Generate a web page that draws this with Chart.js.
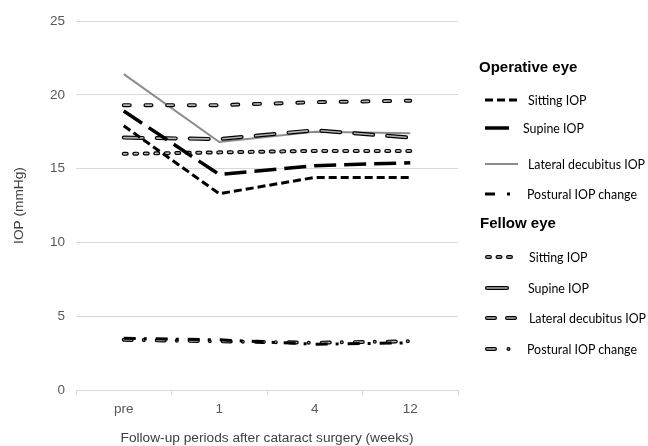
<!DOCTYPE html>
<html>
<head>
<meta charset="utf-8">
<script src="https://cdn.jsdelivr.net/npm/chart.js@4/dist/chart.umd.min.js"></script>
<style>
  html, body { margin: 0; padding: 0; background: #fff; }
  #wrap { position: relative; width: 648px; height: 446px; }
  #c { position: absolute; left: 0; top: 0; }
  #lg { position: absolute; left: 0; top: 0; pointer-events: none; }
  .hd { position: absolute; font: bold 15px "Liberation Sans", Arial, sans-serif; color: #000; transform: translateY(-50%); white-space: nowrap; }
  .it { position: absolute; font: 12.4px Lato, "Open Sans", sans-serif; color: #000; transform: translateY(-50%); white-space: nowrap; }
</style>
</head>
<body>
<div id="wrap">
  <canvas id="c" width="648" height="446"></canvas>
  <canvas id="lg" width="648" height="446"></canvas>
</div>
<script>
// ---- data ----
const categories = ['pre', '1', '4', '12'];
const opSitting  = [17.9, 13.3, 14.4, 14.4];
const opSupine   = [18.9, 14.6, 15.2, 15.4];
const opLateral  = [21.4, 16.8, 17.5, 17.4];
const opPostural = [3.5, 3.4, 3.1, 3.2];
const feSitting  = [16.0, 16.1, 16.2, 16.2];
const feSupine   = [17.1, 17.0, 17.6, 17.1];
const feLateral  = [19.3, 19.3, 19.5, 19.6];
const fePostural = [3.4, 3.3, 3.2, 3.3];
const yTicks = [0, 5, 10, 15, 20, 25];
const xTitle = 'Follow-up periods after cataract surgery (weeks)';
const yTitle = 'IOP (mmHg)';

// ---- styles ----
const INNER = '#b3b3b3';
function line(data, color, width, dash, order, cap) {
  return { data, borderColor: color, borderWidth: width, borderDash: dash, borderCapStyle: cap || 'butt',
           pointRadius: 0, pointHoverRadius: 0, fill: false, tension: 0, order };
}
const dashFeSit = [3, 7.5], dashFeSup = [19, 14], dashFeLat = [6, 15.7], dashFePos = [8, 12, 0.01, 13];
const datasets = [
  line(opSitting, '#000', 3, [8, 4], 1),
  line(opSupine, '#000', 3.5, [22, 8], 2),
  line(opPostural, '#000', 3, [12, 8, 3, 9], 3),
  // fellow eye: outlined lines (outer black, inner gray)
  line(feSitting, INNER, 1.6, dashFeSit, 10, 'round'),
  line(feSitting, '#000', 4, dashFeSit, 11, 'round'),
  line(feSupine, INNER, 1.6, dashFeSup, 12, 'round'),
  line(feSupine, '#000', 4, dashFeSup, 13, 'round'),
  line(feLateral, INNER, 1.6, dashFeLat, 14, 'round'),
  line(feLateral, '#000', 4, dashFeLat, 15, 'round'),
  line(fePostural, INNER, 1.6, dashFePos, 16, 'round'),
  line(fePostural, '#000', 4, dashFePos, 17, 'round'),
  line(opLateral, '#8c8c8c', 2, [], 30)
];

const tickFont = { family: '"Liberation Sans", Arial, sans-serif', size: 13.5 };
const titleFont = { family: '"Liberation Sans", Arial, sans-serif', size: 13.7 };
new Chart(document.getElementById('c'), {
  type: 'line',
  data: { labels: categories, datasets },
  options: {
    responsive: false, animation: false, devicePixelRatio: 1,
    layout: { padding: { top: 21, right: 190, left: 0, bottom: 0 } },
    plugins: { legend: { display: false }, tooltip: { enabled: false } },
    scales: {
      x: {
        offset: true,
        grid: { offset: true, drawOnChartArea: false, drawTicks: true, tickLength: 5, color: '#d9d9d9' },
        border: { color: '#d9d9d9' },
        ticks: { padding: 6, font: tickFont, color: '#595959' },
        title: { display: true, text: xTitle, font: titleFont, color: '#404040', padding: { top: 0, bottom: 0 } },
        afterFit: s => { s.height = 56; }
      },
      y: {
        min: 0, max: 25,
        afterBuildTicks: s => { s.ticks = yTicks.map(v => ({ value: v })); },
        ticks: { padding: 11, font: tickFont, color: '#595959' },
        grid: { color: '#d9d9d9', drawTicks: false },
        border: { display: false },
        title: { display: true, text: yTitle, font: titleFont, color: '#404040', padding: { top: 11, bottom: 0 } },
        afterFit: s => { s.width = 76; }
      }
    }
  }
});

// ---- legend ----
const wrap = document.getElementById('wrap');
function addText(cls, txt, x, y) {
  const d = document.createElement('div');
  d.className = cls; d.textContent = txt;
  d.style.left = x + 'px'; d.style.top = y + 'px';
  wrap.appendChild(d);
}
const lg = document.getElementById('lg').getContext('2d');
function seg(x1, x2, y, color, w, dash, cap) {
  lg.save();
  lg.strokeStyle = color; lg.lineWidth = w; lg.setLineDash(dash || []);
  lg.lineCap = cap || 'butt';
  lg.beginPath(); lg.moveTo(x1, y); lg.lineTo(x2, y); lg.stroke();
  lg.restore();
}
function outlined(x1, x2, y, dash) {
  seg(x1, x2, y, '#000', 4, dash, 'round');
  seg(x1, x2, y, INNER, 1.6, dash, 'round');
}
addText('hd', 'Operative eye', 479, 66);
seg(485, 518, 100, '#000', 3, [8, 4]);            addText('it', 'Sitting IOP', 528, 100);
seg(485, 509, 128, '#000', 3.5, []);              addText('it', 'Supine IOP', 523, 128);
seg(485, 518, 164, '#8c8c8c', 2, []);             addText('it', 'Lateral decubitus IOP', 528, 164);
seg(485, 510, 194, '#000', 3, [10, 12, 3, 20]);   addText('it', 'Postural IOP change', 527, 194);
addText('hd', 'Fellow eye', 480, 222);
outlined(487, 516, 257, dashFeSit);               addText('it', 'Sitting IOP', 529, 257);
outlined(487, 507, 288, []);                      addText('it', 'Supine IOP', 528, 288);
outlined(487, 517, 318, [8, 12]);                 addText('it', 'Lateral decubitus IOP', 529, 318);
outlined(487, 509, 349, [8, 13.5, 0.01, 20]);     addText('it', 'Postural IOP change', 527, 349);
</script>
</body>
</html>
